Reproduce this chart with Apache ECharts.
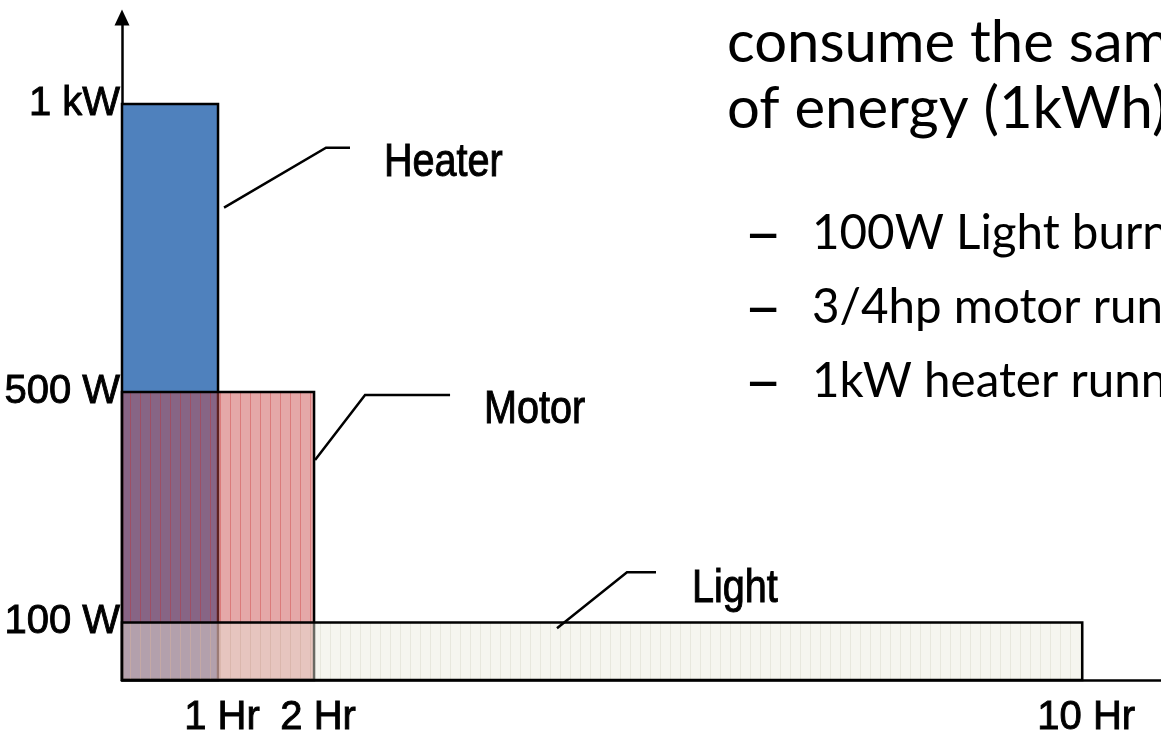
<!DOCTYPE html>
<html>
<head>
<meta charset="utf-8">
<script src="https://cdn.jsdelivr.net/npm/echarts@6/dist/echarts.min.js"></script>
<style>
  html, body { margin: 0; padding: 0; background: #fff; }
  #chart { width: 1161px; height: 734px; }
</style>
</head>
<body>
<div id="chart"></div>
<script>
// devices, how long they run (hours) and how much power they draw (W)
const names = ['Heater', 'Motor', 'Light'];
const hours = [1, 2, 10];
const watts = [1000, 500, 100];

// axis ticks
const xTicks = [1, 2, 10];
const xTickLabels = ['1 Hr', '2 Hr', '10 Hr'];
const yTicks = [100, 500, 1000];
const yTickLabels = ['100 W', '500 W', '1 kW'];

// slide text on the right
const headLines = ['consume the same', 'of energy (1kWh)'];
const bullets = ['100W Light burning', '3/4hp motor running', '1kW heater running'];

const arial = "'Liberation Sans', Arial, sans-serif";
const bodyFont = "Lato, 'Open Sans', sans-serif";

// stripe patterns
function stripes(base, line, w) {
  const c = document.createElement('canvas');
  c.width = w; c.height = 4;
  const ctx = c.getContext('2d');
  ctx.fillStyle = base;
  ctx.fillRect(0, 0, w, 4);
  ctx.fillStyle = line;
  ctx.fillRect(0, 0, 1, 4);
  return { image: c, repeat: 'repeat' };
}
const fills = [
  '#4F81BD',
  stripes('rgba(200,70,70,0.47)', 'rgba(200,40,40,0.35)', 10),
  stripes('rgba(232,232,220,0.45)', 'rgba(205,205,190,0.35)', 10)
];

// callouts: anchor (data) + leader in px
const callouts = [
  { at: [1, 820], dx0: 6, leg: [102, -60], tail: 24, label: [160, -44] },
  { at: [2, 382], dx0: 1, leg: [50, -65], tail: 85, label: [169, -50] },
  { at: [4.53, 90], dx0: 0, leg: [70, -56], tail: 29, label: [135, -39] }
];

const chart = echarts.init(document.getElementById('chart'));

const tickFont = {
  fontFamily: arial, fontSize: 40, color: '#000',
  textBorderColor: '#000', textBorderWidth: 0.9
};

chart.setOption({
  animation: false,
  grid: { left: 122, right: 0, top: 17.6, bottom: 54, outerBoundsMode: 'none' },
  xAxis: {
    type: 'value', min: 0, max: 10.82,
    splitLine: { show: false },
    axisLine: { lineStyle: { color: '#000', width: 2.5 } },
    axisTick: { show: false },
    axisLabel: Object.assign({
      customValues: xTicks,
      formatter: v => xTickLabels[xTicks.indexOf(v)],
      margin: 18,
      padding: [0, 0, 0, 8]
    }, tickFont)
  },
  yAxis: {
    type: 'value', min: 0, max: 1150,
    splitLine: { show: false },
    axisLine: {
      show: true,
      symbol: ['none', 'triangle'], symbolSize: [15, 16],
      lineStyle: { color: '#000', width: 2.5 }
    },
    axisTick: { show: false },
    axisLabel: Object.assign({
      customValues: yTicks,
      formatter: v => yTickLabels[yTicks.indexOf(v)],
      margin: 2
    }, tickFont)
  },
  series: [{
    type: 'custom',
    clip: false,
    data: names.map((n, i) => [hours[i], watts[i]]),
    renderItem(params, api) {
      const i = params.dataIndex;
      const p0 = api.coord([0, api.value(1)]);
      const p1 = api.coord([api.value(0), 0]);
      const c = callouts[i];
      const a = api.coord(c.at);
      const s = [a[0] + c.dx0, a[1]];
      const e = [s[0] + c.leg[0], s[1] + c.leg[1]];
      return {
        type: 'group',
        children: [{
          type: 'rect',
          shape: { x: p0[0], y: p0[1], width: p1[0] - p0[0], height: p1[1] - p0[1] },
          style: { fill: fills[i], stroke: '#000', lineWidth: 2.5 }
        }, {
          type: 'polyline',
          shape: { points: [s, e, [e[0] + c.tail, e[1]]] },
          style: { fill: null, stroke: '#000', lineWidth: 2.5 }
        }, {
          type: 'text',
          x: s[0] + c.label[0], y: s[1] + c.label[1],
          scaleX: 0.86,
          style: {
            text: names[i], fontFamily: arial, fontSize: 46,
            fill: '#000', stroke: '#000', lineWidth: 1,
            verticalAlign: 'middle', align: 'left'
          }
        }]
      };
    }
  }],
  graphic: [
    ...headLines.map((t, k) => ({
      type: 'text', left: 727, top: 14 + k * 66,
      style: { text: t, fontFamily: bodyFont, fontSize: 58, fill: '#000' }
    })),
    ...bullets.map((t, k) => ({
      type: 'group', left: 744, top: 201 + k * 74,
      children: [{
        type: 'text', x: 0, y: -5,
        style: { text: '–', fontFamily: bodyFont, fontSize: 66, fill: '#000' }
      }, {
        type: 'text', x: 68, y: 4,
        style: { text: t, fontFamily: bodyFont, fontSize: 47.5, fill: '#000' }
      }]
    }))
  ]
});
</script>
</body>
</html>
